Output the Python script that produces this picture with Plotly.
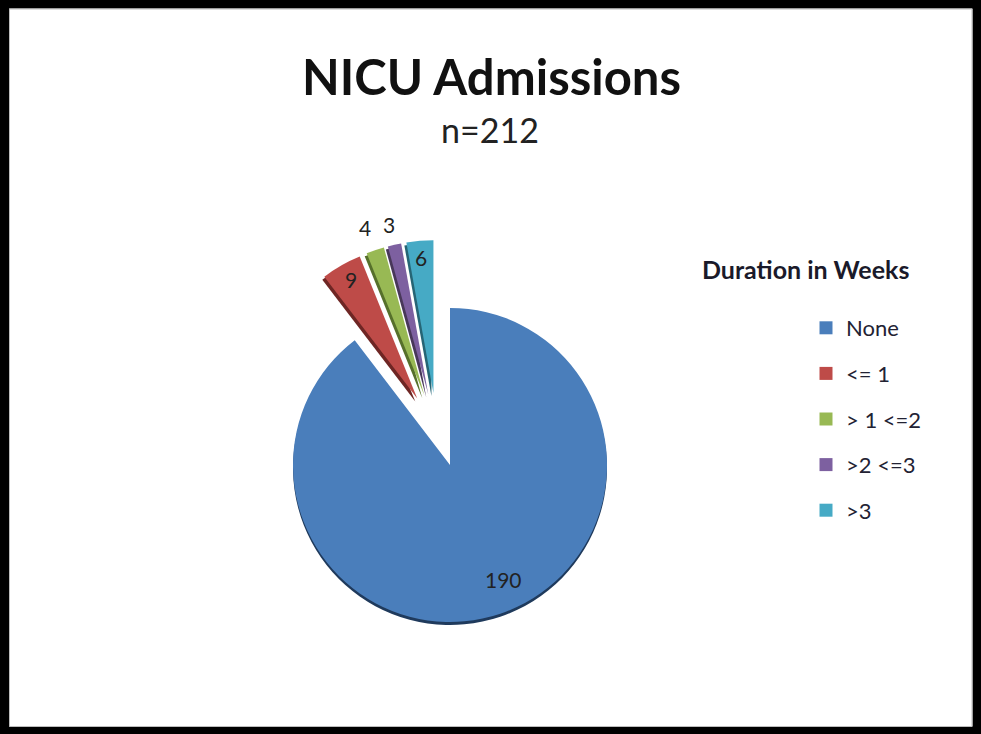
"""NICU admissions by duration, exploded pie with a hand-placed legend column."""

import plotly.graph_objects as go

WIDTH = 981
HEIGHT = 734

categories = ["None", "<= 1", "> 1 <=2", ">2 <=3", ">3"]
values = [190, 9, 4, 3, 6]
colors = ["#4A7EBB", "#BE4B48", "#98B954", "#7D60A0", "#46AAC5"]
shadows = ["#1F3A5C", "#6E2624", "#56702B", "#483759", "#266575"]


def px_domain(cx, cy, r):
    """Pie domain in paper fractions from a centre and radius in pixels."""
    return dict(
        x=[(cx - r) / WIDTH, (cx + r) / WIDTH],
        y=[1 - (cy + r) / HEIGHT, 1 - (cy - r) / HEIGHT],
    )


def slices(palette, main_at, pulled_at):
    """Main slice and the exploded wedges, as two pies sharing the same values."""
    main = go.Pie(
        labels=categories, values=values, sort=False, direction="clockwise",
        rotation=0, textinfo="none", showlegend=False,
        marker=dict(colors=[palette[0]] + ["rgba(0,0,0,0)"] * 4),
        domain=px_domain(*main_at, 157),
    )
    pulled = go.Pie(
        labels=categories, values=values, sort=False, direction="clockwise",
        rotation=0, textinfo="none", showlegend=False,
        pull=[0, 0.26, 0.26, 0.26, 0.26],
        marker=dict(colors=["rgba(0,0,0,0)"] + palette[1:]),
        domain=px_domain(*pulled_at, 193),
    )
    return [main, pulled]


fig = go.Figure()
fig.add_traces(slices(shadows, (450, 468), (435, 436)))
fig.add_traces(slices(colors, (450, 465), (437, 433)))

# legend entries: dummy traces so each row gets its own spacing group
for name, color in zip(categories, colors):
    fig.add_trace(go.Scatter(
        x=[None], y=[None], mode="markers", name=name, legendgroup=name,
        marker=dict(symbol="square", size=13, color=color),
    ))

labels_at = [(503, 579), (351, 279), (365, 227), (389, 224), (421, 257)]
annotations = [
    dict(x=491 / WIDTH, y=1 - 76 / HEIGHT, text="<b>NICU Admissions</b>",
         font=dict(size=49, color="#111111")),
    dict(x=490 / WIDTH, y=1 - 129 / HEIGHT, text="n=212",
         font=dict(size=34, color="#222222")),
    dict(x=805 / WIDTH, y=1 - 269 / HEIGHT, text="<b>Duration in Weeks</b>",
         font=dict(size=25, color="#1a1a2a")),
]
for value, (lx, ly) in zip(values, labels_at):
    annotations.append(dict(
        x=lx / WIDTH, y=1 - ly / HEIGHT, text=str(value),
        font=dict(size=21, color="#222222"),
    ))

fig.update_layout(
    width=WIDTH, height=HEIGHT,
    margin=dict(l=0, r=0, t=0, b=0),
    paper_bgcolor="white", plot_bgcolor="white",
    font=dict(family="Lato, Open Sans, sans-serif"),
    xaxis=dict(visible=False), yaxis=dict(visible=False),
    legend=dict(
        x=806 / WIDTH, y=1 - 307 / HEIGHT, xanchor="left", yanchor="top",
        tracegroupgap=14, font=dict(size=22, color="#222233"),
        bgcolor="rgba(0,0,0,0)", itemwidth=30,
    ),
    annotations=[
        dict(a, xref="paper", yref="paper", showarrow=False,
             xanchor="center", yanchor="middle")
        for a in annotations
    ],
    shapes=[
        dict(type="rect", xref="paper", yref="paper",
             x0=4.5 / WIDTH, x1=977 / WIDTH, y0=1 - 731 / HEIGHT, y1=1 - 4 / HEIGHT,
             line=dict(color="black", width=9), fillcolor="rgba(0,0,0,0)"),
        dict(type="rect", xref="paper", yref="paper",
             x0=9.5 / WIDTH, x1=972 / WIDTH, y0=1 - 726.5 / HEIGHT, y1=1 - 9 / HEIGHT,
             line=dict(color="#bdbdbd", width=1), fillcolor="rgba(0,0,0,0)"),
    ],
)

# the page body's default margin would push the fixed-size figure off the window
fig.write_html(
    "out.html",
    config=dict(displayModeBar=False),
    post_script="document.body.style.margin = '0';",
)
